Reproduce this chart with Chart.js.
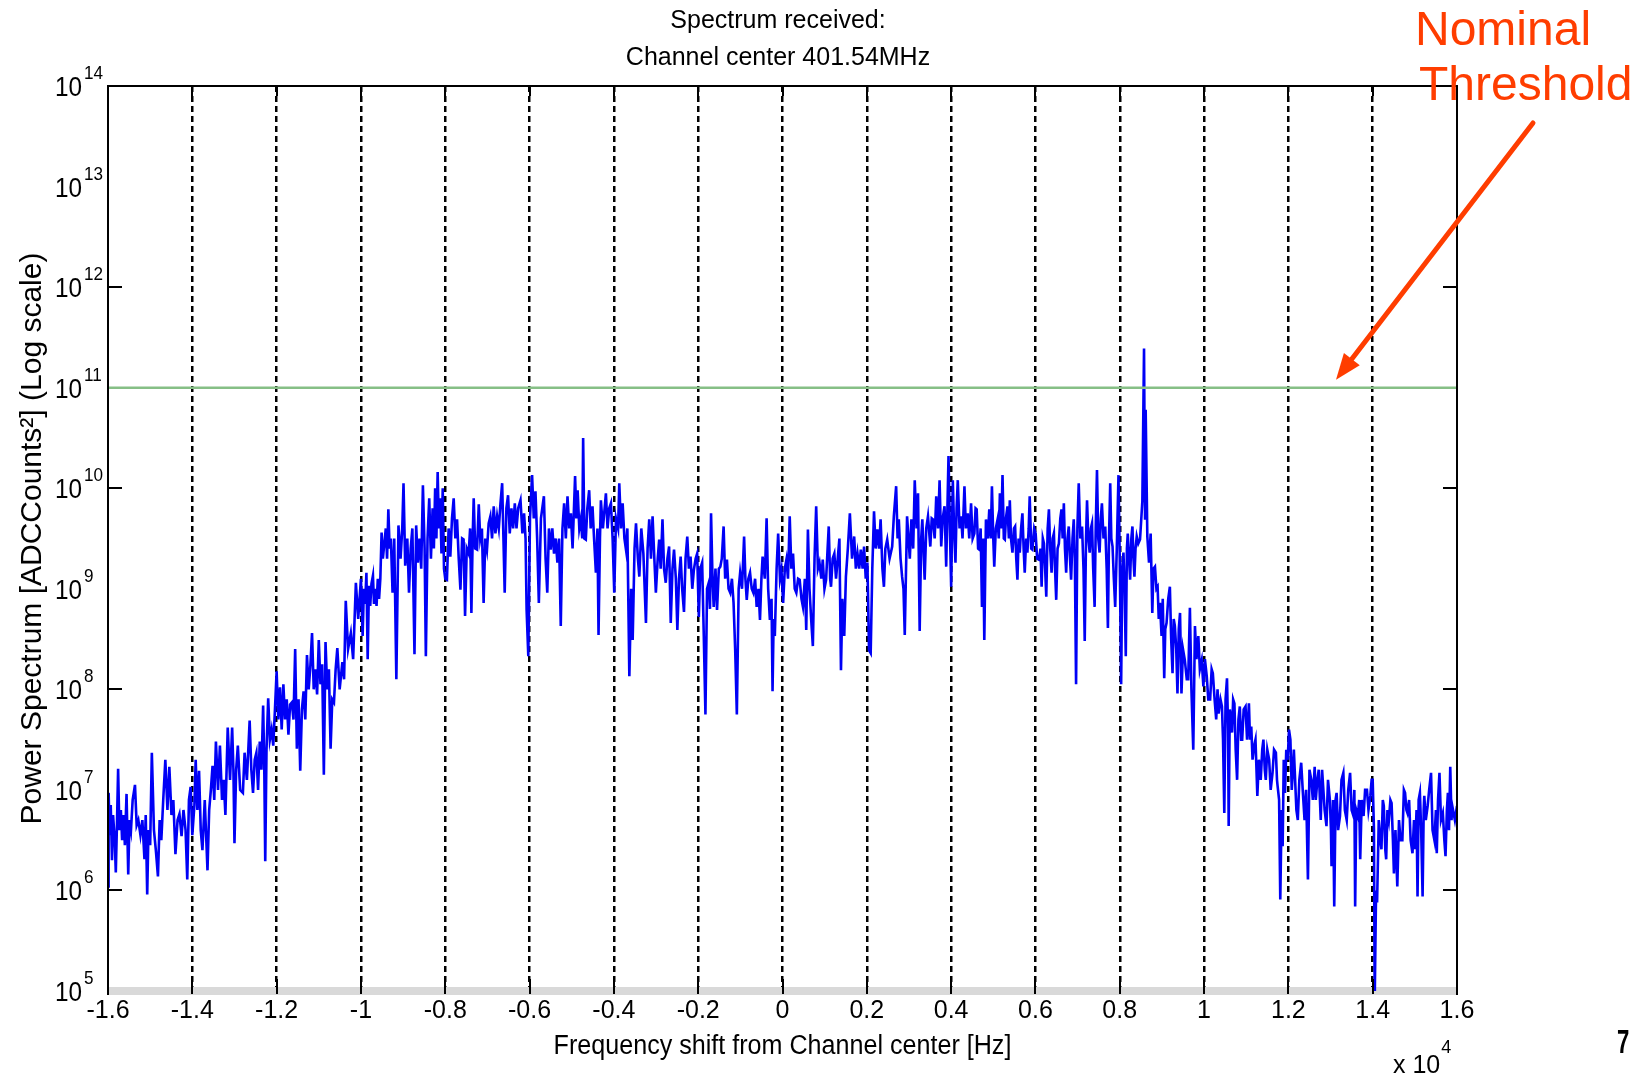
<!DOCTYPE html>
<html>
<head>
<meta charset="utf-8">
<script src="https://cdn.jsdelivr.net/npm/chart.js@4.4.1/dist/chart.umd.min.js"></script>
<style>
html,body{margin:0;padding:0;background:#fff;}
#wrap{width:1641px;height:1076px;position:relative;}
canvas{display:block;}
</style>
</head>
<body>
<div id="wrap"><canvas id="c" width="1641" height="1076"></canvas></div>
<script>
// ---------------- text & ticks ----------------
const chartTitleLines = ['Spectrum received:', 'Channel center 401.54MHz'];
const xAxisTitle = 'Frequency shift from Channel center [Hz]';
const yAxisTitle = 'Power Spectrum [ADCCounts\u00B2] (Log scale)';
const xTickValuesHz = [-16000,-14000,-12000,-10000,-8000,-6000,-4000,-2000,0,2000,4000,6000,8000,10000,12000,14000,16000];
const xTickLabels = ['-1.6','-1.4','-1.2','-1','-0.8','-0.6','-0.4','-0.2','0','0.2','0.4','0.6','0.8','1','1.2','1.4','1.6'];
const xMultiplierBase = 'x 10';
const xMultiplierExp = '4';
const yTickExponents = [5,6,7,8,9,10,11,12,13,14];
const yMarkedExponents = [6,8,10,12];
const thresholdLevel = 1e11;
const annotationLines = ['Nominal', 'Threshold'];
const arrowTarget = {freqHz: 13130, power: 1.2e11};
const pageNumber = '7';

// ---------------- spectrum: [frequency Hz, log10(power)] ----------------
const leftSkirt = [
[-16000,6.04],[-15985,6.97],[-15960,6.55],[-15935,6.85],[-15905,6.3],[-15880,6.75],[-15840,6.5],[-15815,6.18],[-15785,6.7],[-15760,7.21],
[-15730,6.6],[-15695,6.8],[-15665,6.5],[-15630,6.75],[-15600,6.45],[-15560,6.96],[-15520,6.16],[-15490,6.7],[-15455,6.6],[-15415,6.9],
[-15360,7.05],[-15320,6.65],[-15280,6.7],[-15230,6.55],[-15185,6.7],[-15135,6.31],[-15105,6.75],[-15070,5.96],[-15040,6.6],[-15000,6.45],
[-14960,7.37],[-14910,6.6],[-14865,6.4],[-14815,6.14],[-14775,6.7],[-14735,6.5],[-14690,6.9],[-14640,7.3],[-14590,6.8],[-14545,7.23],
[-14495,6.75],[-14450,6.9],[-14400,6.36],[-14350,6.7],[-14305,6.76],[-14255,6.54],[-14210,6.8],[-14160,6.6],[-14120,6.11],[-14080,6.9],
[-14040,7.03],[-14000,6.55],[-13950,6.85],[-13920,7.3],[-13880,6.8],[-13840,7.19],[-13800,6.6],[-13760,6.4],[-13705,6.9],[-13640,6.2],
[-13600,6.8],[-13560,7.0],[-13520,7.24],[-13480,6.9],[-13440,7.48],[-13390,7.0],[-13345,7.44],[-13295,6.9],[-13255,7.1],[-13215,6.75],
[-13160,7.62],[-13105,7.1],[-13055,7.62],[-13025,7.2],[-13000,6.47],[-12960,7.2],[-12920,7.44],[-12865,7.0],[-12800,6.97],[-12760,7.37],
[-12705,7.1],[-12640,7.69],[-12600,7.2],[-12560,6.97],[-12520,7.3],[-12480,7.37],[-12440,7.0],[-12400,7.48],[-12360,7.2],[-12320,7.84],
[-12295,7.3],[-12270,6.29],[-12240,7.4],[-12200,7.91],[-12160,7.5],[-12120,7.6],[-12080,7.44],[-12040,7.8],[-12000,8.18],[-11960,7.7],
[-11920,8.02],[-11880,7.6],[-11840,8.05],[-11800,7.7],[-11760,7.9],[-11720,7.55],[-11680,7.85],[-11640,7.87],[-11600,7.7],[-11560,8.4],
[-11520,7.41],[-11480,7.9],[-11440,7.19],[-11400,7.8],[-11360,7.98],[-11320,7.7],[-11280,8.34],[-11240,8.0],[-11200,8.23],[-11160,8.56],
[-11120,8.0],[-11080,8.2],[-11040,7.95],[-11000,8.49],[-10960,8.05],[-10920,8.25],[-10880,7.15],[-10840,8.47],[-10800,8.0],[-10760,8.2],
[-10720,7.41],[-10680,7.9],[-10640,7.87],[-10600,8.2],[-10560,8.41],[-10505,8.0],[-10440,8.27],[-10400,8.1],[-10360,8.88],[-10305,8.4],
[-10240,8.56],[-10185,8.3],[-10120,9.06],[-10065,8.7],[-10000,9.1]
];
const leftShoulder = [
[-9960,8.53],[-9930,9.0],[-9900,8.85],[-9870,9.16],[-9840,8.3],[-9810,9.03],[-9780,8.83],[-9750,9.05],[-9715,9.13],[-9690,8.85],
[-9660,9.0],[-9630,8.83],[-9600,9.1],[-9570,8.9],[-9540,9.1],[-9510,9.56],[-9480,9.3],[-9450,9.43],[-9410,9.6],[-9380,9.3],
[-9350,9.79],[-9320,9.4],[-9290,9.5],[-9250,8.96],[-9210,9.5],[-9160,8.1],[-9110,9.63],[-9060,9.3],[-9020,9.6],[-8990,10.05],
[-8950,9.23],[-8900,9.5],[-8860,8.96],[-8820,9.4],[-8780,9.6],[-8730,8.35],[-8690,9.63],[-8650,9.26],[-8610,9.5],[-8570,9.2],
[-8530,10.03],[-8490,9.4],[-8460,8.33],[-8420,9.5],[-8380,9.9],[-8340,9.3],[-8300,9.8],[-8270,9.4],[-8240,10.0],[-8210,9.5],
[-8180,10.16],[-8150,9.6],[-8120,9.9],[-8090,9.35],[-8060,10.0],[-8030,9.2],[-8000,9.1],
[-7960,9.09],[-7920,9.6],[-7880,9.32],[-7840,9.7],[-7800,9.9],[-7760,9.5],[-7720,9.69],[-7680,9.3],[-7640,8.99],[-7600,9.5],
[-7565,9.49],[-7530,8.73],[-7490,9.4],[-7445,9.35],[-7410,9.6],[-7380,8.76],[-7350,9.5],[-7325,9.9],[-7290,9.4],[-7245,9.39],
[-7205,9.84],[-7170,9.5],[-7130,9.6],[-7090,8.86],[-7050,9.5],[-7010,9.39],[-6970,9.65],[-6930,9.72],[-6890,9.5],[-6850,9.82],
[-6810,9.55],[-6770,9.72],[-6730,9.6],[-6690,9.85],[-6650,10.05],[-6590,8.96],[-6550,9.8],[-6510,9.93],[-6470,9.55],[-6430,9.8],
[-6390,9.6],[-6350,9.85],[-6310,9.6],[-6270,9.8],[-6215,9.88],[-6170,9.55],[-6130,9.75],[-6095,9.5],[-6070,8.79],[-6030,8.33],
[-5990,9.7],[-5940,10.13],[-5900,9.7],[-5860,9.97],[-5820,9.5],[-5780,8.86],[-5730,9.7],[-5660,9.92],[-5620,9.3],[-5580,8.96],
[-5540,9.6],[-5500,9.39],[-5460,9.6],[-5420,9.35],[-5380,9.5],[-5340,9.26],[-5300,9.5],[-5260,8.63],[-5220,9.6],[-5180,9.85],
[-5140,9.5],[-5100,9.92],[-5060,9.6],[-5020,9.75],[-4980,9.4],[-4920,10.12],[-4890,9.7],[-4860,9.98],[-4820,9.6],[-4785,9.69],
[-4750,9.5],[-4729,10.5],[-4700,9.5],[-4666,9.49],[-4630,9.8],[-4586,9.98],[-4550,9.6],[-4507,9.82],[-4470,9.5],[-4427,9.16],
[-4390,9.6],[-4364,8.54],[-4330,9.5],[-4308,9.88],[-4260,9.6],[-4189,9.95],[-4150,9.6],[-4110,9.8],[-4070,9.85],[-4030,9.5],
[-3991,8.96],[-3950,9.7],[-3900,9.6],[-3872,10.05],[-3830,9.6],[-3792,9.85],[-3750,9.5],[-3713,9.39],[-3680,9.6],[-3633,8.13],
[-3590,9.0],[-3554,8.49],[-3510,9.4],[-3475,9.65],[-3430,9.3]
];
const centralBand = [
[-3396,9.12],[-3350,9.6],[-3300,9.35],[-3239,8.66],[-3200,9.4],[-3161,9.69],[-3120,9.3],[-3082,9.72],[-3040,9.3],[-3004,8.96],
[-2960,9.3],[-2925,9.49],[-2890,9.2],[-2847,9.69],[-2810,9.2],[-2769,9.06],[-2730,9.3],[-2690,9.42],[-2651,8.66],[-2610,9.2],
[-2573,9.39],[-2530,9.1],[-2494,8.59],[-2455,9.1],[-2416,9.32],[-2380,9.0],[-2337,8.77],[-2300,9.3],[-2259,9.52],[-2220,9.2],
[-2181,9.32],[-2140,9.0],[-2102,9.19],[-2060,9.3],[-2024,9.35],[-1985,8.72],[-1950,9.2],[-1906,9.26],[-1867,8.53],[-1828,7.75],
[-1790,9.0],[-1749,9.06],[-1720,8.8],[-1695,9.75],[-1660,9.1],[-1632,8.82],[-1590,9.2],[-1553,8.79],[-1510,9.2],[-1475,9.22],
[-1440,9.3],[-1397,9.62],[-1360,9.1],[-1318,9.29],[-1280,9.0],[-1240,8.96],[-1200,9.1],[-1161,8.86],[-1122,8.39],[-1083,7.75],
[-1040,9.0],[-1005,9.16],[-960,9.0],[-911,9.52],[-880,9.1],[-848,8.89],[-810,9.1],[-770,9.16],[-730,9.0],[-691,8.96],
[-650,9.1],[-613,8.82],[-570,9.0],[-534,8.69],[-500,9.1],[-472,9.32],[-420,9.1],[-377,9.7],[-340,9.0],[-299,8.69],
[-260,8.9],[-236,7.98],[-210,8.7],[-182,8.53],[-140,9.2],[-103,9.55],[-60,9.1],[-25,9.19],[15,8.86],[55,9.2],
[93,9.29],[130,9.1],[171,9.72],[210,9.2],[250,9.35],[290,9.0],[328,8.96],[370,9.1],[407,9.09],[450,8.9],
[485,8.82],[530,9.1],[563,8.59],[603,9.59],[640,9.0],[681,8.69],[720,8.43],[760,9.3],[799,9.82],[840,9.2],
[877,9.26],[920,9.1],[955,9.29],[995,9.0],[1034,9.09],[1070,9.4],[1097,9.62],[1130,9.1],[1151,9.02],[1190,9.3],
[1230,9.35],[1270,9.1],[1308,9.29],[1350,9.5],[1387,8.19],[1420,8.9],[1465,8.53],[1504,9.12],[1550,9.4],[1598,9.75],
[1650,9.3],[1700,9.52],[1740,9.2],[1779,9.35],[1820,9.2],[1857,9.39],[1900,9.2],[1935,9.42],[1975,9.1],[2014,9.26],
[2053,8.39],[2092,8.36],[2130,9.2],[2171,9.77],[2210,9.4],[2249,9.59],[2290,9.4],[2327,9.69],[2370,9.2],[2406,9.02],
[2440,9.4],[2484,9.49],[2540,9.3],[2602,9.42],[2641,9.72],[2696,10.02],[2730,9.5],[2759,9.69],[2800,9.3],[2837,9.12],
[2870,9.0],[2900,8.54],[2955,9.72]
];
const rightShoulder = [
[3020,9.3],[3058,9.69],[3100,9.4],[3137,10.08],[3180,9.6],[3215,9.95],[3254,8.58],[3290,9.5],[3317,9.69],[3372,9.09],
[3410,9.6],[3451,9.72],[3506,9.42],[3540,9.7],[3569,9.69],[3610,9.5],[3647,9.92],[3690,9.6],[3726,10.08],[3765,9.42],
[3800,9.7],[3844,9.82],[3883,9.22],[3938,10.32],[3970,9.6],[4001,9.02],[4040,10.08],[4070,9.6],[4103,9.26],[4130,9.8],
[4158,10.08],[4200,9.6],[4237,9.72],[4270,9.5],[4316,10.02],[4350,9.6],[4394,9.75],[4430,9.5],[4473,9.85],[4510,9.5],
[4551,9.55],[4580,9.8],[4606,9.79],[4640,9.4],[4669,9.39],[4700,9.6],[4732,8.82],[4760,9.5],[4787,8.49],[4826,9.69],
[4870,9.5],[4905,9.79],[4940,9.5],[4968,10.02],[5000,9.5],[5023,9.22],[5060,9.6],[5102,9.69],[5130,9.5],[5157,9.95],
[5190,9.6],[5219,10.13],[5250,9.5],[5274,9.49],[5300,9.7],[5337,9.82],[5370,9.5],[5392,9.88],[5420,9.5],[5455,9.36],
[5490,9.6],[5518,9.62],[5545,9.3],[5573,9.09],[5600,9.5],[5628,9.36],[5660,9.6],[5691,9.75],[5720,9.4],[5746,9.16],
[5780,9.5],[5809,9.36],[5840,9.6],[5864,9.92],[5900,9.4],[5927,9.39],[5970,9.6],[6005,9.55],[6040,9.3],[6084,9.29],
[6120,9.4],[6147,9.02],[6175,9.5],[6202,9.45],[6230,9.2],[6257,8.92],[6290,9.6],[6320,9.79],[6350,9.4],[6383,9.16],
[6410,9.5],[6438,9.55],[6465,9.2],[6493,8.89],[6525,9.4],[6556,9.45],[6590,9.7],[6618,9.79],[6645,9.5],[6674,9.85],
[6700,9.4],[6729,9.16],[6760,9.5],[6791,9.62],[6820,9.3],[6846,9.09],[6880,9.5],[6909,9.69],[6935,9.3],[6964,8.05],
[6995,9.6],[7027,10.05],[7065,9.5],[7106,9.62],[7140,9.2],[7169,8.48],[7200,9.5],[7224,9.88],[7255,9.5],[7287,9.36],
[7315,9.6],[7342,9.65],[7370,9.2],[7404,8.82],[7430,9.6],[7460,10.18],[7490,9.5],[7522,9.36],[7550,9.7],[7577,9.85],
[7615,9.5],[7656,9.62],[7690,9.2],[7719,8.61],[7745,9.5],[7774,10.05],[7800,9.5],[7829,9.42],[7860,9.1],[7892,8.82],
[7930,9.4],[7970,10.13],[8000,9.3],[8033,8.05],[8060,9.2],[8088,9.36],[8115,9.0],[8143,8.33],[8170,9.4],[8190,9.55],
[8220,9.3],[8246,9.09],[8275,9.5],[8301,9.62],[8325,9.3],[8348,9.12],[8375,9.4],[8403,9.52],[8440,9.45],[8481,9.49],
[8536,9.87],[8576,11.39],[8600,9.7],[8615,10.78],[8654,9.52],[8694,9.26],[8733,9.55],[8772,8.76],[8800,9.2],[8835,9.22],
[8870,9.0],[8898,9.02],[8925,8.7],[8953,8.86],[8992,8.53],[9020,8.9],[9055,8.11],[9080,8.6],[9110,8.66],[9150,8.9],
[9189,9.02],[9220,8.5],[9252,8.16],[9280,8.7],[9307,8.63],[9340,8.4],[9369,7.96],[9400,8.6]
];
const rightSkirt = [
[9430,8.76],[9464,7.96],[9500,8.4],[9544,8.29],[9590,8.1],[9624,8.1],[9664,8.81],[9700,8.0],[9744,7.4],[9784,8.63],
[9820,8.3],[9864,8.53],[9900,8.2],[9944,8.29],[9984,8.03],[10020,8.3],[10064,8.13],[10100,7.9],[10144,7.9],[10180,8.2],
[10208,8.16],[10250,7.9],[10288,7.7],[10320,8.0],[10344,7.76],[10390,7.9],[10424,7.83],[10450,7.5],[10480,6.77],[10510,7.9],
[10544,8.11],[10570,7.6],[10584,6.64],[10610,7.8],[10624,7.76],[10664,7.57],[10690,7.9],[10720,7.86],[10750,7.4],[10784,7.1],
[10815,7.7],[10848,7.83],[10880,7.5],[10904,7.5],[10940,7.8],[10984,7.83],[11020,7.5],[11064,7.86],[11090,7.5],[11120,7.63],
[11150,7.3],[11184,7.43],[11220,7.5],[11264,6.94],[11300,7.3],[11344,7.1],[11380,7.4],[11408,7.5],[11440,7.2],[11464,7.1],
[11500,7.4],[11544,7.3],[11580,7.0],[11624,7.17],[11660,7.4],[11704,7.37],[11730,7.1],[11744,7.04],[11780,6.9],[11808,5.91],
[11840,6.8],[11864,6.44],[11890,7.3],[11920,6.97],[11950,7.4],[11984,7.3],[12015,7.6],[12048,7.5],[12080,7.0],[12104,7.17],
[12130,7.4],[12160,7.1],[12190,6.8],[12224,6.7],[12260,7.1],[12304,7.27],[12340,7.0],[12384,6.7],[12420,7.0],[12464,6.11],
[12500,7.2],[12544,7.1],[12580,6.9],[12624,7.23],[12650,6.9],[12688,7.1],[12720,7.2],[12768,6.7],[12800,7.2],[12824,7.04],
[12860,6.8],[12904,6.64],[12940,7.1],[12984,6.9],[13010,6.6],[13024,6.24],[13060,6.9],[13088,5.84],[13120,6.9],[13144,6.97],
[13180,6.6],[13224,6.74],[13260,7.1],[13304,7.17],[13340,6.8],[13384,6.7],[13420,7.0],[13464,7.17],[13500,6.8],[13544,6.74],
[13565,7.0],[13584,5.84],[13610,6.8],[13648,6.74],[13680,6.9],[13704,6.31],[13740,6.9],[13784,6.74],[13820,7.0],[13864,7.0],
[13900,6.8],[13944,6.94],[13975,7.1],[14000,7.1],[14030,6.6],[14048,4.9],[14080,6.0],[14104,5.88],[14144,6.7],[14180,6.5],
[14208,6.41],[14240,6.9],[14264,6.84],[14300,6.4],[14320,6.31],[14350,6.8],[14384,6.7],[14420,6.9],[14448,6.87],[14480,6.5],
[14504,6.17],[14540,6.6],[14584,6.04],[14624,6.7],[14660,6.5],[14704,6.5],[14740,7.0],[14768,6.97],[14800,6.8],[14824,6.77],
[14864,6.9],[14900,6.5],[14944,6.37],[14980,6.7],[15008,6.41],[15040,6.8],[15064,5.94],[15090,6.9],[15120,6.97],[15150,6.6],
[15184,5.94],[15210,6.8],[15224,6.94],[15260,6.7],[15304,6.84],[15340,7.0],[15384,7.17],[15420,6.6],[15464,6.5],[15500,6.8],
[15520,6.37],[15550,6.9],[15584,7.17],[15620,6.7],[15664,6.77],[15700,6.5],[15728,6.34],[15760,6.8],[15784,6.97],[15810,6.6],
[15840,7.23],[15870,6.7],[15888,6.84],[15950,6.7],[16000,6.84]
];

// ---------------- rendering ----------------
const FONT = '"Liberation Sans", Arial, Helvetica, sans-serif';
const spectrumPoints = [].concat(leftSkirt, leftShoulder, centralBand, rightShoulder, rightSkirt)
  .map(p => ({x: p[0], y: Math.pow(10, p[1])}));
const thresholdPoints = [{x: xTickValuesHz[0], y: thresholdLevel}, {x: xTickValuesHz[xTickValuesHz.length - 1], y: thresholdLevel}];

const framePlugin = {
  id: 'frame',
  beforeDatasetsDraw(chart) {
    const {ctx, chartArea: a} = chart;
    ctx.save();
    ctx.fillStyle = '#d9d9d9';
    ctx.fillRect(a.left, a.bottom - 4, a.right - a.left, 8);
    ctx.restore();
  },
  afterDatasetsDraw(chart) {
    const {ctx, chartArea: a, scales} = chart;
    const xs = scales.x, ys = scales.y;
    ctx.save();
    ctx.strokeStyle = '#000';
    ctx.lineWidth = 2;
    ctx.beginPath();
    ctx.moveTo(a.left - 1, a.top); ctx.lineTo(a.right + 1, a.top);
    ctx.moveTo(a.left, a.top); ctx.lineTo(a.left, a.bottom + 4);
    ctx.moveTo(a.right, a.top); ctx.lineTo(a.right, a.bottom + 4);
    yMarkedExponents.forEach(e => {
      const y = Math.round(ys.getPixelForValue(Math.pow(10, e)));
      ctx.moveTo(a.left, y); ctx.lineTo(a.left + 14, y);
      ctx.moveTo(a.right - 14, y); ctx.lineTo(a.right, y);
    });
    xTickValuesHz.slice(1, -1).forEach(v => {
      const x = Math.round(xs.getPixelForValue(v));
      ctx.moveTo(x, a.bottom + 3); ctx.lineTo(x, a.bottom - 12);
      ctx.moveTo(x, a.top); ctx.lineTo(x, a.top + 10);
    });
    ctx.stroke();
    ctx.restore();
  },
  afterDraw(chart) {
    const {ctx, chartArea: a, scales} = chart;
    const xs = scales.x, ys = scales.y;
    ctx.save();
    ctx.fillStyle = '#000';
    ctx.textBaseline = 'alphabetic';
    // title
    ctx.font = '25px ' + FONT;
    ctx.textAlign = 'center';
    ctx.fillText(chartTitleLines[0], 778, 28);
    ctx.fillText(chartTitleLines[1], 778, 65);
    // y tick labels 10^n
    ctx.textAlign = 'left';
    yTickExponents.forEach(e => {
      const y = ys.getPixelForValue(Math.pow(10, e));
      ctx.save();
      ctx.translate(55, y + 10);
      ctx.scale(0.9, 1);
      ctx.font = '27px ' + FONT;
      ctx.fillText('10', 0, 0);
      const w = ctx.measureText('10').width * 0.9;
      ctx.restore();
      ctx.save();
      ctx.translate(55 + w + 2, y - 7);
      ctx.scale(0.9, 1);
      ctx.font = '19px ' + FONT;
      ctx.fillText(String(e), 0, 0);
      ctx.restore();
    });
    // x axis title
    ctx.save();
    ctx.translate((a.left + a.right) / 2, 1054);
    ctx.scale(0.93, 1);
    ctx.font = '27px ' + FONT;
    ctx.textAlign = 'center';
    ctx.fillText(xAxisTitle, 0, 0);
    ctx.restore();
    // y axis title
    ctx.save();
    ctx.translate(41, (a.top + a.bottom) / 2);
    ctx.rotate(-Math.PI / 2);
    ctx.font = '30px ' + FONT;
    ctx.textAlign = 'center';
    ctx.fillText(yAxisTitle, 0, 0);
    ctx.restore();
    // x multiplier
    ctx.font = '25px ' + FONT;
    ctx.textAlign = 'left';
    ctx.fillText(xMultiplierBase, 1393, 1073);
    const mw = ctx.measureText(xMultiplierBase).width;
    ctx.font = '18px ' + FONT;
    ctx.fillText(xMultiplierExp, 1393 + mw + 1, 1053);
    // page number
    ctx.save();
    ctx.translate(1617, 1053);
    ctx.scale(0.65, 1);
    ctx.font = 'bold 34px ' + FONT;
    ctx.fillText(pageNumber, 0, 0);
    ctx.restore();
    // annotation
    const red = '#ff3d00';
    ctx.fillStyle = red;
    ctx.font = '48px ' + FONT;
    ctx.fillText(annotationLines[0], 1415, 45);
    ctx.fillText(annotationLines[1], 1419, 100);
    const tx = xs.getPixelForValue(arrowTarget.freqHz);
    const ty = ys.getPixelForValue(arrowTarget.power);
    const sx = 1533, sy = 123;
    const ang = Math.atan2(ty - sy, tx - sx);
    const headLen = 26, headHalf = 10;
    const bx = tx - headLen * Math.cos(ang), by = ty - headLen * Math.sin(ang);
    ctx.strokeStyle = red;
    ctx.lineWidth = 5;
    ctx.lineCap = 'round';
    ctx.beginPath();
    ctx.moveTo(sx, sy); ctx.lineTo(bx, by);
    ctx.stroke();
    ctx.beginPath();
    ctx.moveTo(tx, ty);
    ctx.lineTo(bx + headHalf * Math.sin(ang), by - headHalf * Math.cos(ang));
    ctx.lineTo(bx - headHalf * Math.sin(ang), by + headHalf * Math.cos(ang));
    ctx.closePath();
    ctx.fill();
    ctx.restore();
  }
};

new Chart(document.getElementById('c').getContext('2d'), {
  type: 'line',
  data: {
    datasets: [
      {label: 'Nominal threshold', data: thresholdPoints, borderColor: '#86bf86', borderWidth: 2.5, pointRadius: 0, tension: 0},
      {label: 'Power spectrum', data: spectrumPoints, borderColor: '#0000f6', borderWidth: 2.6, pointRadius: 0, tension: 0}
    ]
  },
  options: {
    responsive: false,
    animation: false,
    devicePixelRatio: 1,
    layout: {padding: {left: 0, right: 184, top: 86, bottom: 0}},
    plugins: {legend: {display: false}, tooltip: {enabled: false}, title: {display: false}},
    scales: {
      x: {
        type: 'linear',
        min: xTickValuesHz[0],
        max: xTickValuesHz[xTickValuesHz.length - 1],
        afterBuildTicks: s => { s.ticks = xTickValuesHz.map(v => ({value: v})); },
        afterFit: s => { s.height = 85; },
        ticks: {
          callback: (v, i) => xTickLabels[i],
          font: {family: FONT, size: 25},
          color: '#000',
          padding: 5,
          maxRotation: 0,
          autoSkip: false
        },
        grid: {
          color: c => (c.tick && Math.abs(c.tick.value) === 16000) ? 'rgba(0,0,0,0)' : '#000',
          lineWidth: 2.5,
          drawTicks: false
        },
        border: {display: false, dash: [6, 4]}
      },
      y: {
        type: 'logarithmic',
        min: Math.pow(10, yTickExponents[0]),
        max: Math.pow(10, yTickExponents[yTickExponents.length - 1]),
        afterBuildTicks: s => { s.ticks = yTickExponents.map(e => ({value: Math.pow(10, e)})); },
        afterFit: s => { s.width = 108; },
        ticks: {display: false},
        grid: {display: false},
        border: {display: false}
      }
    }
  },
  plugins: [framePlugin]
});
</script>
</body>
</html>
